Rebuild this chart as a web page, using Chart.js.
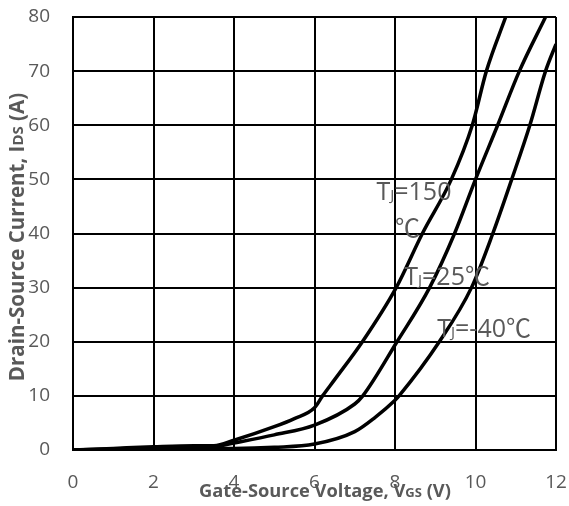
<!DOCTYPE html>
<html><head><meta charset="utf-8">
<script src="https://cdn.jsdelivr.net/npm/chart.js@4"></script>
<style>html,body{margin:0;padding:0;background:#fff}#wrap{width:569px;height:506px}</style>
</head><body><div id="wrap"><canvas id="c" width="569" height="506"></canvas></div>
<script>
const xTicks = [0, 2, 4, 6, 8, 10, 12];
const yTicks = [0, 10, 20, 30, 40, 50, 60, 70, 80];
const vgs150 = [0, 1, 2, 3, 3.5, 4, 5, 5.5, 6, 6.2, 6.5, 7.19, 8.03, 8.68, 9.4, 9.92, 10.27, 10.75];
const ids150 = [0, 0.3, 0.6, 0.8, 0.8, 1.8, 4.3, 5.8, 7.8, 10, 13, 20, 30, 40, 50, 60, 70, 80];
const vgs25 = [0, 1, 2, 3, 3.5, 4, 5, 6, 7, 7.2, 8.05, 8.86, 9.48, 10.0, 10.55, 11.09, 11.74];
const ids25 = [0, 0.2, 0.4, 0.5, 0.6, 1.3, 2.8, 4.6, 8.5, 10, 20, 30, 40, 50, 60, 70, 80];
const vgsM40 = [0, 1, 2, 3, 4, 5, 6, 7, 7.5, 8, 8.1, 9.1, 9.9, 10.43, 10.9, 11.35, 11.74, 12];
const idsM40 = [0, 0.1, 0.2, 0.3, 0.3, 0.5, 1.1, 3.4, 6, 9.2, 10, 20, 30, 40, 50, 60, 70, 75];
const seriesNames = ['TJ=150℃', 'TJ=25℃', 'TJ=-40℃'];
const annotations = [
  {main: 'T', sub: 'J', rest: '=150', x: 7.54, y: 47.5},
  {main: '', sub: '', rest: '℃', x: 8.0, y: 40.6},
  {main: 'T', sub: 'J', rest: '=25℃', x: 8.23, y: 31.8},
  {main: 'T', sub: 'J', rest: '=-40℃', x: 9.05, y: 22.2}
];
const xTitle = ['Gate-Source Voltage, V', 'GS', ' (V)'];
const yTitle = ['Drain-Source Current, I', 'DS', ' (A)'];

const FONT = '"Open Sans", "Noto Sans", sans-serif';
const AFONT = '"Open Sans", "Noto Sans CJK SC", sans-serif';
const GREY = '#595959';
function pts(xs, ys) { return xs.map((x, i) => ({x: x, y: ys[i]})); }

function drawTitle(ctx, parts, size) {
  const big = 'bold ' + size + 'px ' + FONT;
  const small = 'bold ' + Math.round(size * 0.72) + 'px ' + FONT;
  ctx.font = big; const w0 = ctx.measureText(parts[0]).width; const w2 = ctx.measureText(parts[2]).width;
  ctx.font = small; const w1 = ctx.measureText(parts[1]).width;
  let x = -(w0 + w1 + w2) / 2;
  ctx.textBaseline = 'middle'; ctx.textAlign = 'left'; ctx.fillStyle = GREY;
  ctx.font = big; ctx.fillText(parts[0], x, 0); x += w0;
  ctx.font = small; ctx.fillText(parts[1], x, 1); x += w1;
  ctx.font = big; ctx.fillText(parts[2], x, 0);
}

const textPlugin = {
  id: 'texts',
  afterDraw(chart) {
    const ctx = chart.ctx, xs = chart.scales.x, ys = chart.scales.y;
    ctx.save();
    ctx.textBaseline = 'middle'; ctx.textAlign = 'left'; ctx.fillStyle = GREY;
    annotations.forEach(a => {
      let px = xs.getPixelForValue(a.x), py = ys.getPixelForValue(a.y);
      ctx.font = '25px ' + AFONT;
      if (a.main) { ctx.fillText(a.main, px, py); px += ctx.measureText(a.main).width; }
      if (a.sub) { ctx.font = '15px ' + AFONT; ctx.fillText(a.sub, px, py + 3); px += ctx.measureText(a.sub).width; }
      ctx.font = '25px ' + AFONT; ctx.fillText(a.rest, px, py);
    });
    ctx.translate(325, 492); drawTitle(ctx, xTitle, 18.3);
    ctx.setTransform(1, 0, 0, 1, 0, 0);
    ctx.translate(18, 237); ctx.rotate(-Math.PI / 2); drawTitle(ctx, yTitle, 20.5);
    ctx.restore();
  }
};

const lineStyle = {borderColor: '#000', borderWidth: 3.5, pointRadius: 0, showLine: true, fill: false, cubicInterpolationMode: 'monotone'};
new Chart(document.getElementById('c'), {
  type: 'scatter',
  data: {datasets: [
    Object.assign({label: seriesNames[0], data: pts(vgs150, ids150)}, lineStyle),
    Object.assign({label: seriesNames[1], data: pts(vgs25, ids25)}, lineStyle),
    Object.assign({label: seriesNames[2], data: pts(vgsM40, idsM40)}, lineStyle)
  ]},
  options: {
    responsive: false, animation: false, devicePixelRatio: 1,
    layout: {padding: {left: 0, right: 13, top: 17, bottom: 0}},
    plugins: {legend: {display: false}, tooltip: {enabled: false}},
    scales: {
      x: {type: 'linear', min: 0, max: 12,
        afterBuildTicks: s => { s.ticks = xTicks.map(v => ({value: v})); },
        afterFit: s => { s.height = 56; s.paddingLeft = 0; s.paddingRight = 0; },
        grid: {color: '#000', lineWidth: 2, drawTicks: false},
        border: {color: '#000', width: 2},
        ticks: {color: GREY, font: {family: FONT, size: 19}, padding: 21, maxRotation: 0}
      },
      y: {type: 'linear', min: 0, max: 80,
        afterBuildTicks: s => { s.ticks = yTicks.map(v => ({value: v})); },
        afterFit: s => { s.width = 73; s.paddingTop = 0; s.paddingBottom = 0; },
        grid: {color: '#000', lineWidth: 2, drawTicks: false},
        border: {color: '#000', width: 2},
        ticks: {color: GREY, font: {family: FONT, size: 19}, padding: 23}
      }
    }
  },
  plugins: [textPlugin]
});
</script>
</body></html>
